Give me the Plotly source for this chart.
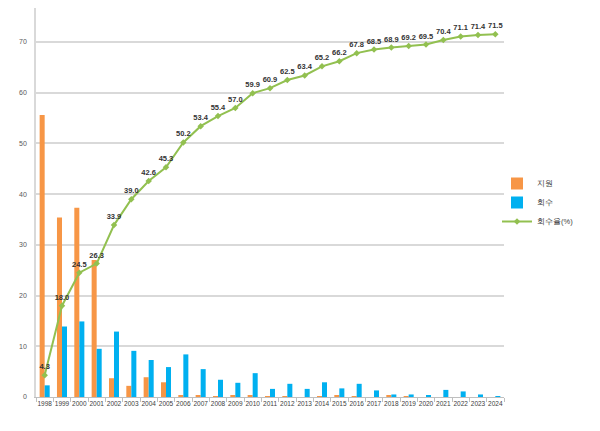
import plotly.graph_objects as go

years = [str(y) for y in range(1998, 2025)]
support = [55.6, 35.4, 37.3, 27.0, 3.7, 2.2, 3.9, 2.9, 0.3, 0.2, 0.1, 0.3, 0.2, 0.1, 0.1, 0.0, 0.1, 0.2, 0.1, 0.0, 0.2, 0.1, 0.0, 0.0, 0.0, 0.0, 0.0]
recovery = [2.3, 13.9, 14.9, 9.5, 12.9, 9.1, 7.3, 5.9, 8.4, 5.5, 3.4, 2.8, 4.7, 1.6, 2.6, 1.6, 2.9, 1.7, 2.6, 1.3, 0.5, 0.5, 0.4, 1.4, 1.1, 0.5, 0.15]
rate = [4.3, 18.0, 24.5, 26.3, 33.9, 39.0, 42.6, 45.3, 50.2, 53.4, 55.4, 57.0, 59.9, 60.9, 62.5, 63.4, 65.2, 66.2, 67.8, 68.5, 68.9, 69.2, 69.5, 70.4, 71.1, 71.4, 71.5]
yticks = [0, 10, 20, 30, 40, 50, 60, 70]

fig = go.Figure()
fig.add_trace(go.Bar(x=years, y=support, name="지원", marker=dict(color="#F79646", line=dict(width=0))))
fig.add_trace(go.Bar(x=years, y=recovery, name="회수", marker=dict(color="#00B0F0", line=dict(width=0))))
fig.add_trace(go.Scatter(
    x=years, y=rate, name="회수율(%)", mode="lines+markers+text",
    line=dict(color="#92C050", width=2),
    marker=dict(color="#92C050", size=5, symbol="diamond"),
    text=[f"{v:.1f}" for v in rate], textposition="top center",
    textfont=dict(size=7.5, color="#333333", family="Liberation Sans"),
    texttemplate="<b>%{text}</b>", cliponaxis=False,
))

fig.update_layout(
    width=592, height=423,
    margin=dict(l=28, r=96, t=0, b=34),
    plot_bgcolor="white", paper_bgcolor="white",
    barmode="group", bargap=0.42, bargroupgap=0,
    font=dict(family="Liberation Sans", size=8, color="#595959"),
    legend=dict(x=0.985, y=0.5, xanchor="left", yanchor="middle",
                font=dict(size=7.5, color="#404040"), itemwidth=30,
                tracegroupgap=2, bgcolor="rgba(0,0,0,0)"),
    showlegend=True,
)
fig.update_xaxes(
    type="category", range=[-0.5, len(years) - 0.5], showgrid=False,
    showline=True, linecolor="#BFBFBF", linewidth=1,
    ticks="outside", tickson="boundaries", ticklen=4, tickcolor="#BFBFBF",
    tickfont=dict(size=6.5, color="#404040"), tickangle=0, automargin=False,
)
fig.update_yaxes(
    range=[0, 76.7], tickvals=yticks, showgrid=True, gridcolor="#D9D9D9", gridwidth=1.5,
    showline=True, linecolor="#D9D9D9", linewidth=1.5, zeroline=False,
    tickfont=dict(size=7, color="#595959"), ticks="outside", ticklen=6, tickcolor="white",
    automargin=False,
)

fig.write_html("out.html")
